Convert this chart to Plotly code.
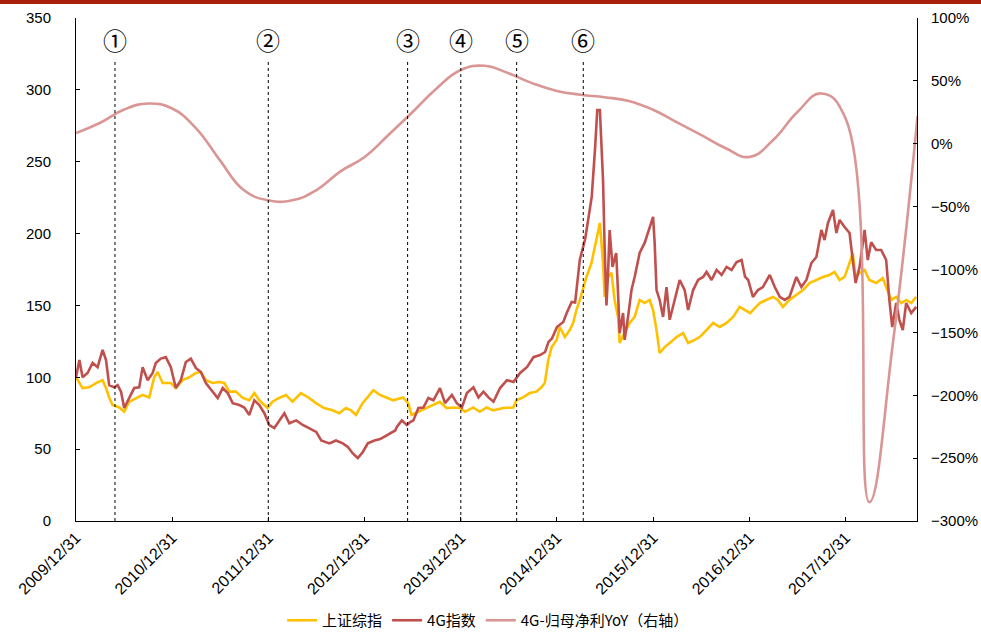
import plotly.graph_objects as go

# 上证综指 (normalised, 2009/12/31 = 100)
sh_dates = [
    "2009-12-31", "2010-01-25", "2010-02-19", "2010-03-17", "2010-04-11", "2010-04-24", "2010-05-06",
    "2010-05-19", "2010-06-13", "2010-07-02", "2010-07-21", "2010-08-16", "2010-09-10", "2010-10-05",
    "2010-10-24", "2010-11-06", "2010-11-25", "2010-12-26", "2011-01-14", "2011-02-09", "2011-03-06",
    "2011-03-31", "2011-04-19", "2011-05-08", "2011-06-03", "2011-06-28", "2011-07-17", "2011-08-05",
    "2011-08-30", "2011-09-25", "2011-10-20", "2011-11-08", "2011-11-27", "2011-12-28", "2012-01-16",
    "2012-02-10", "2012-03-07", "2012-04-01", "2012-05-03", "2012-06-03", "2012-06-29", "2012-07-30",
    "2012-08-31", "2012-09-25", "2012-10-21", "2012-11-09", "2012-11-28", "2012-12-23", "2013-01-11",
    "2013-02-02", "2013-02-27", "2013-03-24", "2013-04-18", "2013-05-26", "2013-06-14", "2013-06-27",
    "2013-07-22", "2013-08-23", "2013-09-17", "2013-10-12", "2013-11-07", "2013-12-02", "2013-12-28",
    "2014-01-16", "2014-02-16", "2014-03-13", "2014-04-08", "2014-05-03", "2014-06-10", "2014-07-18",
    "2014-07-30", "2014-08-24", "2014-09-19", "2014-10-14", "2014-11-02", "2014-11-15", "2014-11-28",
    "2014-12-11", "2014-12-30", "2015-01-11", "2015-01-30", "2015-02-18", "2015-03-02", "2015-03-15",
    "2015-03-28", "2015-04-22", "2015-05-11", "2015-05-30", "2015-06-12", "2015-06-24", "2015-06-30",
    "2015-07-13", "2015-07-26", "2015-08-07", "2015-08-20", "2015-08-26", "2015-09-14", "2015-10-03",
    "2015-10-22", "2015-11-10", "2015-11-29", "2015-12-18", "2015-12-31", "2016-01-13", "2016-01-25",
    "2016-02-13", "2016-03-03", "2016-03-29", "2016-04-23", "2016-05-12", "2016-06-06", "2016-06-25",
    "2016-07-21", "2016-08-15", "2016-09-09", "2016-10-05", "2016-10-30", "2016-11-24", "2016-12-14",
    "2017-01-03", "2017-01-13", "2017-02-08", "2017-03-05", "2017-03-30", "2017-04-18", "2017-05-07",
    "2017-06-01", "2017-06-27", "2017-07-22", "2017-08-16", "2017-09-11", "2017-10-06", "2017-10-31",
    "2017-11-19", "2017-12-08", "2017-12-27", "2018-01-15", "2018-01-27", "2018-02-07", "2018-02-22",
    "2018-03-13", "2018-03-31", "2018-04-26", "2018-05-21", "2018-06-03", "2018-06-22", "2018-07-11",
    "2018-07-30", "2018-08-18", "2018-09-06", "2018-09-25",
]
sh_values = [
    100, 92.5, 93, 96, 98, 92.5, 86,
    80.7, 79, 76, 83, 85.6, 87.7, 86,
    100, 103.7, 96, 96, 92.5, 98, 100,
    103, 103.7, 98, 96, 96.7, 96, 90,
    90, 85.6, 84, 89, 84, 78.6, 83,
    85.6, 87.7, 83, 89, 85.6, 82, 78.6,
    77, 75, 78.6, 77, 73.8, 82, 86,
    91, 87.7, 85.6, 84, 86, 82, 73.8,
    76, 79, 80.7, 83, 78.6, 79, 78.6,
    76, 79, 76, 79, 77, 78.6, 79,
    84, 86, 89, 90, 93, 96, 112,
    121, 126, 135, 128, 133, 137.6, 146.8,
    153.8, 169.8, 179.5, 195.5, 207.4, 179.5, 155.9,
    169.8, 172.6, 153.8, 142, 123.9, 130.8, 137.8,
    142, 153.8, 151.7, 153.8, 146.8, 132.9, 116.9,
    121, 123.9, 128, 130.8, 123.9, 126, 128,
    132.9, 137.8, 135, 137.8, 142, 149, 146.8,
    144.7, 146.8, 151.7, 153.8, 155.9, 153.8, 149,
    153.8, 157.3, 160.7, 165.6, 167.7, 169.8, 171.2,
    173.3, 167.7, 169.8, 179.5, 186.5, 169.8, 172.6,
    174.7, 167.7, 165.6, 169, 162.8, 153.8, 155.9,
    151.7, 153.8, 151.7, 155.9,
]

# 4G指数 (normalised, 2009/12/31 = 100)
g4_dates = [
    "2009-12-31", "2010-01-13", "2010-01-25", "2010-02-13", "2010-03-04", "2010-03-23", "2010-04-11",
    "2010-04-24", "2010-05-06", "2010-05-25", "2010-06-07", "2010-06-20", "2010-07-02", "2010-07-21",
    "2010-08-09", "2010-08-28", "2010-09-10", "2010-09-29", "2010-10-18", "2010-10-30", "2010-11-18",
    "2010-12-07", "2010-12-26", "2011-01-14", "2011-02-02", "2011-02-21", "2011-03-12", "2011-03-31",
    "2011-04-19", "2011-05-08", "2011-06-03", "2011-06-22", "2011-07-11", "2011-07-30", "2011-08-18",
    "2011-09-12", "2011-10-01", "2011-10-20", "2011-11-08", "2011-11-27", "2011-12-16", "2012-01-04",
    "2012-01-23", "2012-02-11", "2012-03-01", "2012-03-20", "2012-04-15", "2012-05-10", "2012-06-04",
    "2012-06-30", "2012-07-19", "2012-08-19", "2012-09-13", "2012-10-09", "2012-10-28", "2012-11-16",
    "2012-12-05", "2012-12-24", "2013-01-12", "2013-02-06", "2013-02-28", "2013-03-30", "2013-04-26",
    "2013-05-02", "2013-05-21", "2013-06-09", "2013-06-22", "2013-07-04", "2013-07-23", "2013-08-11",
    "2013-08-30", "2013-09-18", "2013-10-13", "2013-11-01", "2013-11-27", "2013-12-16", "2014-01-04",
    "2014-01-23", "2014-02-17", "2014-03-08", "2014-03-27", "2014-04-15", "2014-05-04", "2014-05-29",
    "2014-06-24", "2014-07-19", "2014-08-13", "2014-09-08", "2014-10-03", "2014-10-28", "2014-11-16",
    "2014-11-29", "2014-12-12", "2014-12-31", "2015-01-24", "2015-02-06", "2015-02-25", "2015-03-10",
    "2015-03-22", "2015-03-28", "2015-04-17", "2015-04-28", "2015-05-12", "2015-05-25", "2015-06-02",
    "2015-06-12", "2015-06-18", "2015-06-24", "2015-06-30", "2015-07-07", "2015-07-13", "2015-07-19",
    "2015-07-30", "2015-08-13", "2015-08-20", "2015-08-26", "2015-09-08", "2015-09-14", "2015-09-27",
    "2015-10-10", "2015-10-22", "2015-11-10", "2015-11-29", "2015-12-18", "2015-12-31", "2016-01-06",
    "2016-01-13", "2016-01-25", "2016-02-07", "2016-02-20", "2016-03-03", "2016-03-22", "2016-04-10",
    "2016-04-29", "2016-05-12", "2016-05-31", "2016-06-19", "2016-07-08", "2016-07-21", "2016-08-09",
    "2016-08-28", "2016-09-16", "2016-10-05", "2016-10-24", "2016-11-12", "2016-12-01", "2016-12-14",
    "2016-12-26", "2017-01-13", "2017-02-01", "2017-02-20", "2017-03-18", "2017-04-06", "2017-04-25",
    "2017-05-14", "2017-06-01", "2017-06-27", "2017-07-16", "2017-08-04", "2017-08-23", "2017-09-11",
    "2017-09-30", "2017-10-12", "2017-10-25", "2017-11-13", "2017-11-26", "2017-12-08", "2017-12-27",
    "2018-01-15", "2018-01-27", "2018-02-07", "2018-02-22", "2018-03-13", "2018-03-25", "2018-04-07",
    "2018-04-26", "2018-05-15", "2018-06-03", "2018-06-15", "2018-06-26", "2018-07-11", "2018-07-23",
    "2018-08-05", "2018-08-18", "2018-09-06", "2018-09-25",
]
g4_values = [
    100, 112, 100, 103, 110, 107, 119,
    112, 94.6, 93, 94.6, 90, 78.6, 86,
    92.5, 93, 107, 98, 103, 110, 113,
    114, 107, 92.5, 98, 110.6, 113, 106.5,
    103.7, 96, 90, 85.6, 92.5, 89, 82,
    80.7, 79, 73.8, 84, 80.7, 75, 66.8,
    64.7, 70, 75, 68, 70, 66.8, 64.7,
    62, 56, 54, 56, 54, 51.5, 47,
    43.8, 48, 54, 56, 57, 60, 63,
    65.4, 70, 66.8, 68.9, 70, 78.6, 79,
    85.6, 84, 92.5, 82, 87.7, 82, 79,
    89, 93, 86, 90, 86, 83, 92.5,
    98, 96.7, 103, 107, 114, 115.5, 117.6,
    124.6, 127, 135, 138.5, 144.7, 152.4, 152,
    170, 182, 196, 209.5, 225.5, 260, 286,
    286, 265, 237, 190.7, 150, 172.6, 202.5,
    176.8, 186.5, 158.7, 130.8, 144.7, 126, 142,
    160.7, 169.8, 186.5, 193.5, 204.6, 211.6, 193.5,
    160.7, 153.8, 142, 162.8, 140, 153.8, 167.7,
    160.7, 146.8, 160.7, 167.7, 169.8, 173.3, 167.7,
    174.7, 171.2, 176.8, 174.7, 180.2, 181.6, 170,
    167.7, 155.9, 160.7, 162.8, 171.2, 162.8, 155.9,
    153.8, 155.9, 169.8, 162.8, 167.7, 179.5, 183.7,
    202.5, 195.5, 207.4, 216.4, 200.4, 209.5, 204.6,
    200.4, 181.6, 165.6, 176.8, 202.5, 181.6, 194,
    188.6, 188.6, 181.6, 153.8, 135, 151.7, 140,
    132.9, 151.7, 144.7, 149,
]

# 4G-归母净利YoY, quarterly (right axis)
yoy_dates = [
    "2009-12-31", "2010-03-31", "2010-06-30", "2010-09-30", "2010-12-31", "2011-03-31",
    "2011-06-30", "2011-09-30", "2011-12-31", "2012-03-31", "2012-06-30", "2012-09-30",
    "2012-12-31", "2013-03-31", "2013-06-30", "2013-09-30", "2013-12-31", "2014-03-31",
    "2014-06-30", "2014-09-30", "2014-12-31", "2015-03-31", "2015-06-30", "2015-09-30",
    "2015-12-31", "2016-03-31", "2016-06-30", "2016-09-30", "2016-12-31", "2017-03-31",
    "2017-06-30", "2017-09-30", "2017-12-31", "2018-03-31", "2018-06-30", "2018-09-30",
]
yoy_values = [
    0.085, 0.165, 0.27, 0.32, 0.28, 0.125,
    -0.13, -0.37, -0.45, -0.45, -0.37, -0.22,
    -0.105, 0.07, 0.25, 0.44, 0.586, 0.62,
    0.56, 0.48, 0.42, 0.39, 0.37, 0.34,
    0.27, 0.17, 0.07, -0.034, -0.105, 0.03,
    0.25, 0.40, 0.20, -2.85, -1.56, 0.22,
]

# Marked events
event_dates = ["2010-05-28", "2011-12-31", "2013-06-12", "2013-12-31", "2014-07-31", "2015-04-10"]
event_labels = ["①", "②", "③", "④", "⑤", "⑥"]

year_ticks = ["2009-12-31", "2010-12-31", "2011-12-31", "2012-12-31", "2013-12-31",
              "2014-12-31", "2015-12-31", "2016-12-31", "2017-12-31"]
year_tick_text = ["2009/12/31", "2010/12/31", "2011/12/31", "2012/12/31", "2013/12/31",
                  "2014/12/31", "2015/12/31", "2016/12/31", "2017/12/31"]

TICK_FONT = dict(family="Liberation Sans, Arial, sans-serif", size=15, color="#000000")
X_TICK_FONT = dict(family="Liberation Sans, Arial, sans-serif", size=16, color="#000000")
CJK = "Noto Sans CJK SC"

fig = go.Figure()
fig.add_trace(go.Scatter(x=sh_dates, y=sh_values, name="上证综指", mode="lines",
                         line=dict(color="#FFC000", width=2.6)))
fig.add_trace(go.Scatter(x=g4_dates, y=g4_values, name="4G指数", mode="lines",
                         line=dict(color="#C0504D", width=2.6)))
fig.add_trace(go.Scatter(x=yoy_dates, y=yoy_values, name="4G-归母净利YoY（右轴）", mode="lines",
                         yaxis="y2", line=dict(color="#D99694", width=2.6, shape="spline", smoothing=1.3)))

shapes = []
annotations = []
for d, lab in zip(event_dates, event_labels):
    shapes.append(dict(type="line", xref="x", yref="paper", x0=d, x1=d, y0=0, y1=0.913,
                       line=dict(color="#000000", width=1, dash="dot"), layer="above"))
    annotations.append(dict(x=d, y=0.958, xref="x", yref="paper", text=lab, showarrow=False,
                            font=dict(family=CJK, size=24, color="#000000"),
                            xanchor="center", yanchor="middle"))

# dark red band along the top edge
shapes.append(dict(type="rect", xref="paper", yref="paper", x0=-0.2, x1=1.2,
                   y0=1.0278, y1=1.05, fillcolor="#A8200D", line=dict(width=0), layer="above"))

fig.update_layout(
    width=981, height=637,
    margin=dict(l=76, r=64, t=18, b=116, autoexpand=False),
    paper_bgcolor="#FFFFFF", plot_bgcolor="#FFFFFF",
    showlegend=True,
    legend=dict(orientation="h", x=0.49, xanchor="center",
                yref="container", y=0.0, yanchor="bottom",
                font=dict(family=CJK, size=15, color="#000000"), itemwidth=30,
                bgcolor="rgba(0,0,0,0)"),
    xaxis=dict(type="date", range=["2009-12-31", "2018-09-28"], automargin=False,
               tickvals=year_ticks, ticktext=year_tick_text, tickangle=-45,
               ticks="inside", ticklen=4, tickcolor="#000000",
               showline=True, linecolor="#000000", linewidth=1,
               showgrid=False, zeroline=False, tickfont=X_TICK_FONT),
    yaxis=dict(range=[0, 350], dtick=50, ticks="inside", ticklen=4, tickcolor="#000000",
               automargin=False,
               showline=True, linecolor="#000000", linewidth=1,
               showgrid=False, zeroline=False, tickfont=TICK_FONT, ticklabelstandoff=21),
    yaxis2=dict(range=[-3, 1], dtick=0.5, tickformat=".0%", overlaying="y", side="right",
                automargin=False,
                ticks="inside", ticklen=4, tickcolor="#000000",
                showline=True, linecolor="#000000", linewidth=1,
                showgrid=False, zeroline=False, tickfont=TICK_FONT, ticklabelstandoff=10),
    shapes=shapes,
    annotations=annotations,
)

fig.write_html("out.html")
